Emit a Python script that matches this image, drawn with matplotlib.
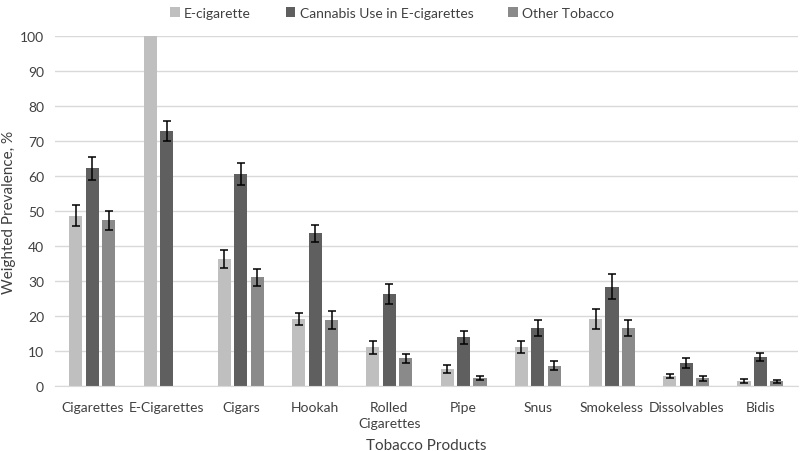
import numpy as np
import matplotlib.pyplot as plt

plt.rcParams['font.family'] = ['Lato', 'DejaVu Sans']

# data
products = ['Cigarettes', 'E-Cigarettes', 'Cigars', 'Hookah', 'Rolled\nCigarettes',
            'Pipe', 'Snus', 'Smokeless', 'Dissolvables', 'Bidis']
ecig = [48.7, 100.0, 36.3, 19.1, 11.0, 4.9, 11.0, 19.1, 2.8, 1.4]
ecig_err = [3.0, np.nan, 2.5, 1.8, 1.8, 1.1, 1.7, 2.8, 0.6, 0.5]
cannabis = [62.2, 72.9, 60.6, 43.6, 26.2, 13.9, 16.6, 28.4, 6.6, 8.2]
cannabis_err = [3.3, 2.9, 3.1, 2.5, 2.8, 1.8, 2.3, 3.6, 1.4, 1.2]
other = [47.3, np.nan, 31.0, 18.9, 7.9, 2.3, 5.8, 16.6, 2.2, 1.3]
other_err = [2.6, np.nan, 2.3, 2.5, 1.3, 0.6, 1.2, 2.2, 0.7, 0.5]

series = [('E-cigarette', ecig, ecig_err, '#bfbfbf'),
          ('Cannabis Use in E-cigarettes', cannabis, cannabis_err, '#5f5f5f'),
          ('Other Tobacco', other, other_err, '#8a8a8a')]

fig = plt.figure(figsize=(8, 4.52), dpi=100)
ax = fig.add_axes([0.069, 0.144, 0.928, 0.774])

x = np.arange(len(products))
w = 0.176
step = 0.222
for i, (name, vals, errs, col) in enumerate(series):
    pos = x + (i - 1) * step
    ax.bar(pos, vals, width=w, color=col, label=name, zorder=2)
    ax.errorbar(pos, vals, yerr=errs, fmt='none', ecolor='black',
                elinewidth=1.1, capsize=3, capthick=1.1, zorder=3)

ax.set_xlim(-0.5, len(products) - 0.5)
ax.set_ylim(0, 100)
ax.set_yticks(range(0, 101, 10))
ax.set_xticks(x)
ax.set_xticklabels(products, linespacing=1.4)
ax.tick_params(length=0, labelsize=10, colors='#404040')
ax.tick_params(axis='x', pad=11)
ax.tick_params(axis='y', pad=8)
ax.grid(axis='y', color='#d9d9d9', linewidth=1, zorder=0)
for s in ['top', 'right', 'left']:
    ax.spines[s].set_visible(False)
ax.spines['bottom'].set_color('#d9d9d9')

# axis titles placed in figure pixels, like the reference
fig.text(9 / 800, 1 - 212 / 452, 'Weighted Prevalence, %', rotation=90,
         ha='center', va='center', fontsize=11, color='#404040')
ax.set_xlabel('Tobacco Products', fontsize=11, color='#404040')
ax.xaxis.set_label_coords(0.5, -0.148)

fig.legend(loc='upper center', bbox_to_anchor=(0.49, 1.01), ncol=3, frameon=False,
           fontsize=10, handlelength=0.7, handleheight=0.7, columnspacing=2.5,
           handletextpad=0.3, labelcolor='#404040')

fig.savefig('out.png', dpi=100)
